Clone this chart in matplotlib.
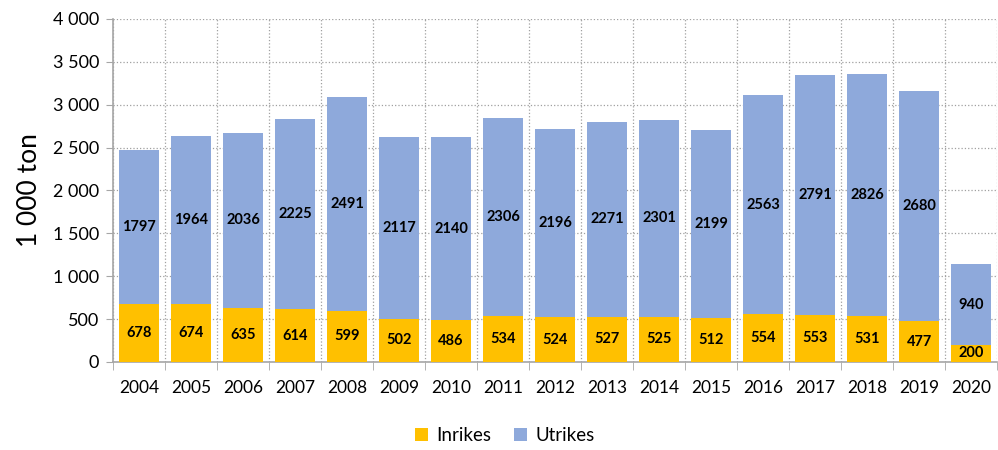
import matplotlib.pyplot as plt
import numpy as np
from matplotlib.ticker import FuncFormatter, FixedLocator

years = [str(y) for y in range(2004, 2021)]
inrikes = [678, 674, 635, 614, 599, 502, 486, 534, 524, 527, 525, 512, 554, 553, 531, 477, 200]
utrikes = [1797, 1964, 2036, 2225, 2491, 2117, 2140, 2306, 2196, 2271, 2301, 2199, 2563, 2791, 2826, 2680, 940]

plt.rcParams['font.family'] = ['Lato', 'DejaVu Sans']

fig = plt.figure(figsize=(9.98, 4.5), dpi=100)
ax = fig.add_axes([0.1132, 0.1956, 0.886, 0.7622])

x = np.arange(len(years))
w = 0.77
b1 = ax.bar(x, inrikes, w, color='#FFC000', label='Inrikes', zorder=3)
b2 = ax.bar(x, utrikes, w, bottom=inrikes, color='#8EA9DB', label='Utrikes', zorder=3)
ax.bar_label(b1, labels=[str(v) for v in inrikes], label_type='center',
             fontsize=10.5, fontweight='bold', color='black')
ax.bar_label(b2, labels=[str(v) for v in utrikes], label_type='center',
             fontsize=10.5, fontweight='bold', color='black')

ax.set_xlim(-0.5, len(years) - 0.5)
ax.set_ylim(0, 4000)
ax.set_yticks(np.arange(0, 4001, 500))
ax.yaxis.set_major_formatter(FuncFormatter(lambda v, p: f"{int(v):,}".replace(",", " ")))
ax.set_xticks(x)
ax.set_xticklabels(years)
ax.xaxis.set_minor_locator(FixedLocator(np.arange(-0.5, len(years), 1)))

ax.tick_params(axis='x', which='major', length=0, pad=13, labelsize=12.5)
ax.tick_params(axis='x', which='minor', length=6, color='#a6a6a6', direction='out')
ax.tick_params(axis='y', length=5, color='#a6a6a6', labelsize=13, pad=5)

ax.grid(axis='y', which='major', linestyle=':', color='#a0a0a0', linewidth=0.9, zorder=0)
ax.grid(axis='x', which='minor', linestyle=':', color='#a0a0a0', linewidth=0.9, zorder=0)

for s in ['top', 'right']:
    ax.spines[s].set_visible(False)
for s in ['left', 'bottom']:
    ax.spines[s].set_color('#a6a6a6')
    ax.spines[s].set_linewidth(1.2)

ax.set_ylabel('1 000 ton', fontsize=19, labelpad=8)

fig.legend(handles=[b1, b2], labels=['Inrikes', 'Utrikes'], loc='lower center',
           bbox_to_anchor=(0.506, -0.025), ncol=2, frameon=False, fontsize=13.5,
           handlelength=0.7, handleheight=0.7, columnspacing=1.2, handletextpad=0.45)

fig.savefig('out.png', dpi=100)
